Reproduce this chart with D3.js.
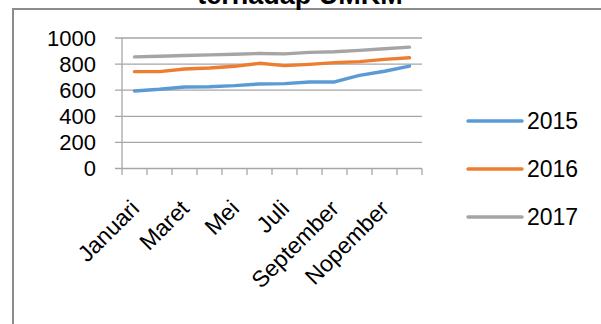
<!DOCTYPE html>
<html><head><meta charset="utf-8">
<script src="https://cdn.jsdelivr.net/npm/d3@7"></script>
<style>body{margin:0;background:#fff;} svg{display:block;}</style>
</head><body>
<svg id="c" width="601" height="324"></svg>
<script>
const months = ["Januari","Februari","Maret","April","Mei","Juni","Juli","Agustus","September","Oktober","Nopember","Desember"];
const tickLabels = ["Januari","Maret","Mei","Juli","September","Nopember"];
const yTicks = [0,200,400,600,800,1000];
const seriesNames = ["2015","2016","2017"];
const v2015 = [594,607,625,627,635,648,650,663,663,714,745,785];
const v2016 = [742,742,762,770,783,806,788,798,811,819,836,849];
const v2017 = [855,860,866,871,876,881,878,890,895,905,918,930];
const colors = ["#5B9BD5","#ED7D31","#A5A5A5"];
const titleText = "terhadap UMKM";

const svg = d3.select("#c");
const font = "Liberation Sans, Arial, sans-serif";

svg.append("rect").attr("x",13).attr("y",9).attr("width",620).attr("height",340)
  .attr("fill","none").attr("stroke","#8c8c8c").attr("stroke-width",2);

svg.append("text").attr("x",300).attr("y",3.5).attr("text-anchor","middle")
  .attr("font-family",font).attr("font-weight","bold").attr("font-size",27)
  .attr("fill","#000").text(titleText);

const x = d3.scaleBand().domain(months).range([122,422]).padding(0);
const y = d3.scaleLinear().domain([0,1000]).range([168.5,38]);

const gridColor = "#a6a6a6";
svg.append("g").selectAll("line").data(yTicks).join("line")
  .attr("x1",115).attr("x2",422).attr("y1",d=>y(d)).attr("y2",d=>y(d))
  .attr("stroke",gridColor).attr("stroke-width",1.3);

svg.append("line").attr("x1",122).attr("x2",122).attr("y1",y(1000)).attr("y2",175)
  .attr("stroke",gridColor).attr("stroke-width",1.3);

const bounds = months.map(m=>x(m)).concat([x(months[months.length-1])+x.bandwidth()]);
svg.append("g").selectAll("line").data(bounds.slice(1)).join("line")
  .attr("x1",d=>d).attr("x2",d=>d).attr("y1",y(0)).attr("y2",175)
  .attr("stroke",gridColor).attr("stroke-width",1.3);

svg.append("g").selectAll("text").data(yTicks).join("text")
  .attr("x",96).attr("y",d=>y(d)).attr("dy","0.35em").attr("text-anchor","end")
  .attr("font-family",font).attr("font-size",22).attr("fill","#000").text(d=>d);

svg.append("g").selectAll("text").data(tickLabels).join("text")
  .attr("text-anchor","end").attr("font-family",font).attr("font-size",23).attr("fill","#000")
  .attr("transform",d=>`translate(${x(d)+x.bandwidth()/2+6},210) rotate(-45)`)
  .text(d=>d);

const data = [v2015,v2016,v2017];
const line = d3.line().x((d,i)=>x(months[i])+x.bandwidth()/2).y(d=>y(d));
svg.append("g").selectAll("path").data(data).join("path")
  .attr("d",d=>line(d)).attr("fill","none").attr("stroke",(d,i)=>colors[i])
  .attr("stroke-width",3.4).attr("stroke-linecap","round").attr("stroke-linejoin","round");

const ly = [121,169,217];
const lg = svg.append("g").selectAll("g").data(seriesNames).join("g");
lg.append("line").attr("x1",468).attr("x2",522).attr("y1",(d,i)=>ly[i]).attr("y2",(d,i)=>ly[i])
  .attr("stroke",(d,i)=>colors[i]).attr("stroke-width",3.4).attr("stroke-linecap","round");
lg.append("text").attr("x",527).attr("y",(d,i)=>ly[i]).attr("dy","0.36em")
  .attr("font-family",font).attr("font-size",23).attr("fill","#000").text(d=>d);
</script>
</body></html>
